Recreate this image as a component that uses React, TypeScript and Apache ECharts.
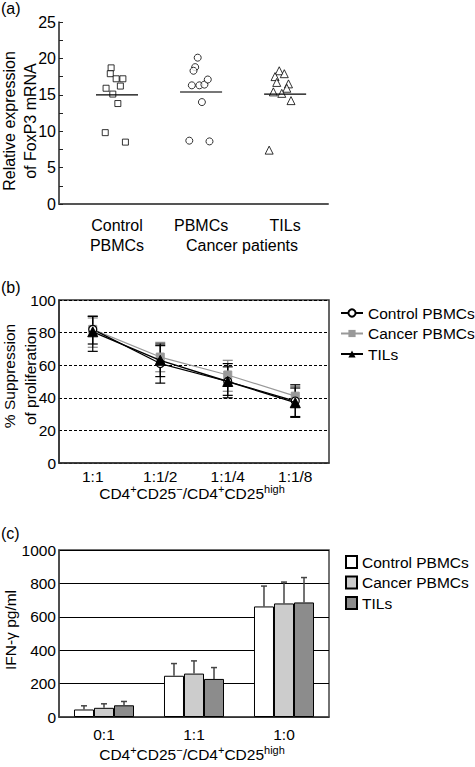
import React, { useEffect, useRef } from "react";
import * as echarts from "echarts";

// ---------- Panel (a) data ----------
const groupLabels = ["Control\nPBMCs", "PBMCs", "TILs"];
const controlFoxp3 = [18.7, 17.9, 17.2, 17.2, 15.9, 16.2, 15.1, 13.8, 9.8, 8.5];
const controlJitter = [-0.07, -0.08, -0.01, 0.07, -0.13, 0.04, -0.05, 0.01, -0.14, 0.1];
const pbmcFoxp3 = [20.1, 18.8, 18.3, 16.3, 16.3, 16.4, 17.1, 14.0, 8.7, 8.6];
const pbmcJitter = [-0.04, -0.07, -0.09, -0.11, -0.02, 0.04, 0.08, 0.01, -0.14, 0.1];
const tilFoxp3 = [18.3, 17.9, 17.5, 16.7, 16.5, 15.9, 15.4, 15.2, 14.2, 7.4];
const tilJitter = [-0.07, -0.01, -0.12, -0.1, 0.04, 0.02, -0.14, -0.04, 0.07, -0.19];
const foxp3Means = [15.0, 15.4, 15.1];

// ---------- Panel (b) data ----------
const ratiosB = ["1:1", "1:1/2", "1:1/4", "1:1/8"];
const controlSupp = [82, 61, 50, 38];
const controlSuppLow = [73, 49, 40, 28];
const controlSuppHigh = [90, 73, 61, 48];
const cancerSupp = [82, 65, 54, 41];
const cancerSuppLow = [71, 56, 44, 34];
const cancerSuppHigh = [89, 74, 63, 47];
const tilSupp = [80.5, 63, 50, 37];
const tilSuppLow = [68.5, 53, 41.5, 28.5];
const tilSuppHigh = [90, 72, 59, 46];

// ---------- Panel (c) data ----------
const ratiosC = ["0:1", "1:1", "1:0"];
const controlIfn = [45, 247, 662];
const controlIfnTop = [67, 320, 784];
const cancerIfn = [55, 260, 680];
const cancerIfnTop = [79, 336, 808];
const tilIfn = [70, 228, 686];
const tilIfnTop = [93, 296, 835];

const seriesNames = ["Control PBMCs", "Cancer PBMCs", "TILs"];

const FONT = "'Liberation Sans', Arial, Helvetica, sans-serif";

function errB(color: string) {
  return (params: any, api: any) => {
    const x = api.value(0);
    const lo = api.coord([x, api.value(1)]);
    const hi = api.coord([x, api.value(2)]);
    const cx = lo[0];
    const w = 5;
    const st = { stroke: color, lineWidth: 1.2 };
    return {
      type: "group",
      children: [
        { type: "line", shape: { x1: cx, y1: lo[1], x2: cx, y2: hi[1] }, style: st },
        { type: "line", shape: { x1: cx - w, y1: lo[1], x2: cx + w, y2: lo[1] }, style: st },
        { type: "line", shape: { x1: cx - w, y1: hi[1], x2: cx + w, y2: hi[1] }, style: st },
      ],
    };
  };
}

function errC(k: number) {
  return (params: any, api: any) => {
    const x = api.value(0);
    const base = api.coord([x, api.value(1)]);
    const top = api.coord([x, api.value(2)]);
    const band = api.size([1, 0])[0];
    const barW = (band * (1 - 0.333)) / 3;
    const cx = base[0] + (k - 1) * barW;
    const st = { stroke: "#444", lineWidth: 1.5 };
    return {
      type: "group",
      children: [
        { type: "line", shape: { x1: cx, y1: base[1], x2: cx, y2: top[1] }, style: st },
        { type: "line", shape: { x1: cx - 3, y1: top[1], x2: cx + 3, y2: top[1] }, style: st },
      ],
    };
  };
}

const supRich = {
  s: { fontSize: 11, lineHeight: 12, verticalAlign: "top", fontFamily: FONT, fill: "#000" },
};
const cdText = "CD4{s|+}CD25{s|−}/CD4{s|+}CD25{s|high}";

export default function App() {
  const ref = useRef<HTMLDivElement>(null);
  useEffect(() => {
    if (!ref.current) return;
    const chart = echarts.init(ref.current, undefined, { renderer: "svg" });

    const scatterStyle = { color: "#fff", borderColor: "#000", borderWidth: 1 };
    const meanLine = (i: number, color: string, width: number) => ({
      type: "line",
      xAxisIndex: 0,
      yAxisIndex: 0,
      symbol: "none",
      data: [
        [i - 0.25, foxp3Means[i]],
        [i + 0.25, foxp3Means[i]],
      ],
      lineStyle: { color, width },
      silent: true,
    });

    const option: any = {
      animation: false,
      backgroundColor: "#fff",
      textStyle: { fontFamily: FONT, color: "#000" },
      grid: [
        { left: 59, top: 22, width: 269, height: 182 },
        { left: 59, top: 300, width: 270, height: 163, show: true, borderColor: "#333", borderWidth: 1.5 },
        { left: 59, top: 550, width: 270, height: 167, show: true, borderColor: "#444", borderWidth: 1.5 },
      ],
      xAxis: [
        {
          gridIndex: 0,
          type: "value",
          min: -0.69,
          max: 2.51,
          axisLine: { show: true, onZero: false, lineStyle: { color: "#555", width: 2 } },
          axisTick: { show: false },
          splitLine: { show: false },
          axisLabel: {
            customValues: [0, 1, 2],
            formatter: (v: number) => groupLabels[Math.round(v)] ?? "",
            fontSize: 16,
            lineHeight: 20,
            color: "#000",
            margin: 11,
            fontFamily: FONT,
          },
        },
        {
          gridIndex: 1,
          type: "category",
          data: ratiosB,
          boundaryGap: true,
          axisLine: { show: true, onZero: false, lineStyle: { color: "#333", width: 1.5 } },
          axisTick: { show: false },
          axisLabel: { fontSize: 15.5, color: "#000", margin: 5, fontFamily: FONT },
        },
        {
          gridIndex: 2,
          type: "category",
          data: ratiosC,
          boundaryGap: true,
          axisLine: { show: true, onZero: false, lineStyle: { color: "#444", width: 1.5 } },
          axisTick: { show: false },
          axisLabel: { fontSize: 15.5, color: "#000", margin: 9, fontFamily: FONT },
        },
      ],
      yAxis: [
        {
          gridIndex: 0,
          type: "value",
          min: 0,
          max: 25,
          interval: 2.5,
          axisLine: { show: true, onZero: false, lineStyle: { color: "#222", width: 1.5 } },
          axisTick: { show: true, inside: true, length: 4, lineStyle: { color: "#222" } },
          splitLine: { show: false },
          axisLabel: {
            formatter: (v: number) => (Math.abs(v % 5) < 1e-6 ? String(v) : ""),
            fontSize: 16,
            color: "#000",
            margin: 3,
            fontFamily: FONT,
          },
        },
        {
          gridIndex: 1,
          type: "value",
          min: 0,
          max: 100,
          interval: 20,
          axisLine: { show: true, onZero: false, lineStyle: { color: "#333", width: 1.5 } },
          axisTick: { show: false },
          splitLine: { show: true, lineStyle: { color: "#000", width: 1, type: [3, 2] } },
          axisLabel: { fontSize: 15.5, color: "#000", margin: 3, fontFamily: FONT },
        },
        {
          gridIndex: 2,
          type: "value",
          min: 0,
          max: 1000,
          interval: 200,
          axisLine: { show: true, onZero: false, lineStyle: { color: "#444", width: 1.5 } },
          axisTick: { show: false },
          splitLine: { show: true, lineStyle: { color: "#000", width: 1 } },
          axisLabel: { fontSize: 15.5, color: "#000", margin: 3, fontFamily: FONT, formatter: (v: number) => String(v) },
        },
      ],
      legend: [
        {
          data: seriesNames,
          orient: "vertical",
          left: 335,
          top: 300,
          itemWidth: 22,
          itemHeight: 9,
          itemGap: 4.5,
          selectedMode: false,
          textStyle: { fontSize: 15.5, lineHeight: 16, color: "#000", fontFamily: FONT },
        },
        {
          data: seriesNames.map((n) => "c:" + n),
          formatter: (n: string) => n.slice(2),
          orient: "vertical",
          left: 340,
          top: 549,
          icon: "rect",
          itemWidth: 11,
          itemHeight: 12,
          itemGap: 4.5,
          selectedMode: false,
          textStyle: { fontSize: 15.5, lineHeight: 16, color: "#000", fontFamily: FONT },
        },
      ],
      graphic: [
        { type: "text", x: 1, y: 8, style: { text: "(a)", fontSize: 16, fontFamily: FONT, fill: "#000", align: "left", verticalAlign: "middle" } },
        { type: "text", x: 1, y: 287, style: { text: "(b)", fontSize: 16, fontFamily: FONT, fill: "#000", align: "left", verticalAlign: "middle" } },
        { type: "text", x: 1, y: 533, style: { text: "(c)", fontSize: 16, fontFamily: FONT, fill: "#000", align: "left", verticalAlign: "middle" } },
        {
          type: "text",
          x: 20,
          y: 121,
          rotation: Math.PI / 2,
          style: { text: "Relative expression\nof FoxP3 mRNA", fontSize: 16, lineHeight: 21, fontFamily: FONT, fill: "#000", align: "center", verticalAlign: "middle" },
        },
        {
          type: "text",
          x: 242,
          y: 245,
          style: { text: "Cancer patients", fontSize: 16, fontFamily: FONT, fill: "#000", align: "center", verticalAlign: "middle" },
        },
        {
          type: "text",
          x: 19.5,
          y: 376,
          rotation: Math.PI / 2,
          style: { text: "% Suppression\nof proliferation", fontSize: 15.5, lineHeight: 21, fontFamily: FONT, fill: "#000", align: "center", verticalAlign: "middle" },
        },
        {
          type: "text",
          x: 192,
          y: 493,
          style: { text: cdText, rich: supRich, fontSize: 15.5, lineHeight: 19, fontFamily: FONT, fill: "#000", align: "center", verticalAlign: "middle" },
        },
        {
          type: "text",
          x: 10,
          y: 630,
          rotation: Math.PI / 2,
          style: { text: "IFN-γ pg/ml", fontSize: 15.5, fontFamily: FONT, fill: "#000", align: "center", verticalAlign: "middle" },
        },
        {
          type: "text",
          x: 192,
          y: 754,
          style: { text: cdText, rich: supRich, fontSize: 15.5, lineHeight: 19, fontFamily: FONT, fill: "#000", align: "center", verticalAlign: "middle" },
        },
      ],
      series: [
        // Panel (a)
        meanLine(0, "#000", 1.3),
        meanLine(1, "#777", 2),
        meanLine(2, "#000", 1.3),
        {
          type: "scatter",
          name: "a-control",
          xAxisIndex: 0,
          yAxisIndex: 0,
          symbol: "rect",
          symbolSize: 6,
          itemStyle: scatterStyle,
          data: controlFoxp3.map((v, i) => [0 + controlJitter[i], v]),
        },
        {
          type: "scatter",
          name: "a-pbmc",
          xAxisIndex: 0,
          yAxisIndex: 0,
          symbol: "circle",
          symbolSize: 7,
          itemStyle: scatterStyle,
          data: pbmcFoxp3.map((v, i) => [1 + pbmcJitter[i], v]),
        },
        {
          type: "scatter",
          name: "a-til",
          xAxisIndex: 0,
          yAxisIndex: 0,
          symbol: "triangle",
          symbolSize: 8,
          itemStyle: scatterStyle,
          data: tilFoxp3.map((v, i) => [2 + tilJitter[i], v]),
        },
        // Panel (b) error bars
        {
          type: "custom",
          name: "errB-cancer",
          xAxisIndex: 1,
          yAxisIndex: 1,
          renderItem: errB("#888"),
          encode: { x: 0, y: [1, 2] },
          data: ratiosB.map((_, i) => [i, cancerSuppLow[i], cancerSuppHigh[i]]),
        },
        {
          type: "custom",
          name: "errB-control",
          xAxisIndex: 1,
          yAxisIndex: 1,
          renderItem: errB("#000"),
          encode: { x: 0, y: [1, 2] },
          data: ratiosB.map((_, i) => [i, controlSuppLow[i], controlSuppHigh[i]]),
        },
        {
          type: "custom",
          name: "errB-til",
          xAxisIndex: 1,
          yAxisIndex: 1,
          renderItem: errB("#000"),
          encode: { x: 0, y: [1, 2] },
          data: ratiosB.map((_, i) => [i, tilSuppLow[i], tilSuppHigh[i]]),
        },
        // Panel (b) lines
        {
          type: "line",
          name: seriesNames[1],
          xAxisIndex: 1,
          yAxisIndex: 1,
          symbol: "rect",
          symbolSize: 8,
          lineStyle: { color: "#999", width: 1.2 },
          itemStyle: { color: "#999", borderColor: "#999" },
          data: cancerSupp,
          z: 3,
        },
        {
          type: "line",
          name: seriesNames[0],
          xAxisIndex: 1,
          yAxisIndex: 1,
          symbol: "circle",
          symbolSize: 8,
          showSymbol: true,
          lineStyle: { color: "#000", width: 1.2 },
          itemStyle: { color: "#fff", borderColor: "#000", borderWidth: 1.2 },
          data: controlSupp,
          z: 3,
        },
        {
          type: "line",
          name: seriesNames[2],
          xAxisIndex: 1,
          yAxisIndex: 1,
          symbol: "triangle",
          symbolSize: 10,
          lineStyle: { color: "#000", width: 1.4 },
          itemStyle: { color: "#000", borderColor: "#000" },
          data: tilSupp,
          z: 4,
        },
        // Panel (c) bars
        {
          type: "bar",
          name: "c:" + seriesNames[0],
          xAxisIndex: 2,
          yAxisIndex: 2,
          barGap: "0%",
          barCategoryGap: "33.3%",
          itemStyle: { color: "#ffffff", borderColor: "#000", borderWidth: 1 },
          data: controlIfn,
        },
        {
          type: "bar",
          name: "c:" + seriesNames[1],
          xAxisIndex: 2,
          yAxisIndex: 2,
          barGap: "0%",
          barCategoryGap: "33.3%",
          itemStyle: { color: "#cccccc", borderColor: "#000", borderWidth: 1 },
          data: cancerIfn,
        },
        {
          type: "bar",
          name: "c:" + seriesNames[2],
          xAxisIndex: 2,
          yAxisIndex: 2,
          barGap: "0%",
          barCategoryGap: "33.3%",
          itemStyle: { color: "#8c8c8c", borderColor: "#000", borderWidth: 1 },
          data: tilIfn,
        },
        // Panel (c) error bars
        {
          type: "custom",
          name: "errC-control",
          xAxisIndex: 2,
          yAxisIndex: 2,
          renderItem: errC(0),
          encode: { x: 0, y: [1, 2] },
          data: ratiosC.map((_, i) => [i, controlIfn[i], controlIfnTop[i]]),
          z: 5,
        },
        {
          type: "custom",
          name: "errC-cancer",
          xAxisIndex: 2,
          yAxisIndex: 2,
          renderItem: errC(1),
          encode: { x: 0, y: [1, 2] },
          data: ratiosC.map((_, i) => [i, cancerIfn[i], cancerIfnTop[i]]),
          z: 5,
        },
        {
          type: "custom",
          name: "errC-til",
          xAxisIndex: 2,
          yAxisIndex: 2,
          renderItem: errC(2),
          encode: { x: 0, y: [1, 2] },
          data: ratiosC.map((_, i) => [i, tilIfn[i], tilIfnTop[i]]),
          z: 5,
        },
      ],
    };

    chart.setOption(option);
    return () => chart.dispose();
  }, []);

  return (
    <div
      ref={ref}
      style={{ position: "absolute", left: 0, top: 0, width: 475, height: 767, background: "#fff" }}
    />
  );
}
